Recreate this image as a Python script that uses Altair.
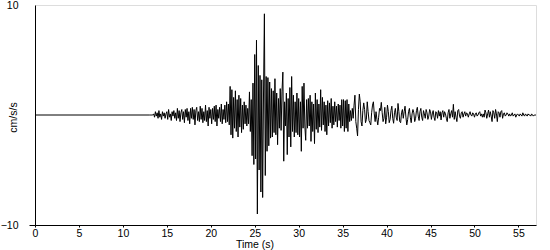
import altair as alt
import pandas as pd

# Acceleration record (cm/s/s), sampled every 0.1 s starting at 13.0 s.
# Before 13.0 s the trace is flat at zero.
pre_event_times = [0.0]
pre_event_vals = [0.0]

start_time = 13.0
sample_step = 0.1

pre_event_noise = [
    0, 0, 0, 0, 0, 0.1, -0.2, 0.3, -0.1, 0.2,
    -0.3, 0.4, -0.2, 0.1, -0.4, 0.3, -0.1, 0.2, -0.3, 0.1,
    0.3, -0.4, 0.5, -0.2, 0.1, -0.5, 0.3, -0.1, 0.4, -0.3,
    0.2, -0.5, 0.6, -0.3, 0.4, -0.6, 0.2, 0.5, -0.4, 0.3,
    -0.7, 0.5, -0.2, 0.6, -0.5, 0.3, -0.8, 0.6, -0.3, 0.7,
    -0.4, 0.5, -0.9, 0.4, 0.7, -0.5, 0.3, -0.6, 0.8, -0.4,
    0.6, -0.7, 0.3, -0.5, 0.9, -0.6, 0.4, -1.0, 0.7, -0.3,
    0.5, -0.8, 0.6, -0.4, 0.8, -0.6, 0.9, -1.0, 0.5, -0.3,
    0.7, -0.6, 1.0, -0.8, 0.5, -0.4, 0.9, -0.7, 1.2, -0.6,
]

strong_motion = [
    1.0, -0.9, 2.6, -1.8, 2.3, -2.1, 1.6, -1.2, 2.2, -1.5,
    1.4, -2.0, 1.8, -1.1, 1.5, -1.6, 0.9, -1.3, 1.2, -0.8,
    0.9, -1.0, 0.6, -0.8, 2.1, -1.5, 1.4, -3.7, 2.9, -4.5,
    5.5, -4.0, 6.8, -9.0, 4.5, -5.0, 3.6, -7.0, 3.2, -7.5,
    2.0, 9.2, -5.5, 3.5, -3.3, 3.4, -2.8, 3.0, -2.1, 2.4,
    -2.0, 2.2, -1.6, 3.3, -1.8, 2.0, -2.7, 1.5, -1.2, 2.4,
    -1.4, 2.1, 3.9, -4.2, 1.2, -1.0, 2.0, -3.6, 1.5, -2.0,
    2.5, -2.9, 3.5, -1.5, 1.8, -2.0, 1.2, -1.6, 2.0, -1.8,
]

coda_early = [
    1.5, -2.0, 1.2, -3.3, 2.6, -1.2, 2.9, -1.0, -2.3, 1.4,
    -1.2, 1.5, -1.0, 1.8, -2.4, 1.2, -1.5, 1.0, -2.6, 2.0,
    -1.3, 1.4, -1.6, 1.0, -1.1, 2.3, -1.4, 1.6, -0.9, 1.2,
    -1.5, 0.9, -1.8, 1.3, -1.0, 1.1, -0.7, 1.5, -1.2, 0.8,
    -0.9, 1.2, -0.6, 0.8, -1.1, 1.0, -0.5, 0.9, -1.2, 1.4,
    -1.0, 1.4, -1.5, 1.3, -1.2, 1.4, -1.5, 1.0, -0.6, 0.4,
    -0.5, 0.6, -0.3, 0.9, 1.8, -0.6, -1.2, -1.9, 0.5, 1.9,
    1.2, -0.6, -1.0, 0.4, 1.1, 0.5, -0.7, -0.4, 1.2, 0.3,
    -0.5, -0.7, -0.9, 0.2, 0.9, 1.2, 0.1, -0.6, 0.3, -0.4,
    -0.9, -0.2, 0.6, 0.4, 1.15, 0.2, -0.6, -0.3, 0.7, -0.8,
]

coda_late = [
    -0.2, 0.9, 0.3, -0.7, -0.4, 0.4, 0.8, -0.3, -0.75, 0.2,
    0.6, -0.2, -0.5, 1.05, 0.3, -0.6, -0.7, 0.2, 0.5, -0.3,
    0.3, 0.8, -0.2, -0.9, -0.4, 0.3, 0.6, -0.2, -0.7, 0.1,
    0.5, 0.2, -0.6, -0.3, 0.4, 0.7, -0.1, -0.5, 0.3, 0.6,
    -0.2, -0.5, 0.4, 0.1, -0.3, 0.5, 0.2, -0.4, -0.1, 0.5,
    0.3, -0.4, 0.1, 0.4, -0.2, -0.5, 0.3, 0.2, -0.3, 0.4,
    -0.1, 0.3, -0.45, 0.2, 0.4, -0.2, 0.3, 0.1, -0.3, -0.6,
    0.2, 0.5, -0.3, 0.1, 0.4, -0.2, 0.97, -0.4, 0.3, -0.2,
    -0.6, 0.4, 0.5, -0.1, -0.3, 0.2, 0.3, -0.2, 0.1, 0.3,
    -0.1, 0.2, 0.1, -0.2, 0.1, 0.3, 0.0, -0.1, 0.2, 0.1,
    -0.2, 0.1, 0.2, -0.1, 0.0, 0.2, 0.3, -0.1, 0.1, -0.2,
    0.1, -0.2, 0.45, 0.2, -0.3, 0.1, 0.45, -0.2, 0.3, -0.1,
    -0.6, 0.4, 0.2, -0.3, 0.5, 0.1, -0.6, 0.3, 0.2, -0.2,
    0.3, 0.4, -0.3, 0.1, 0.2, -0.1, 0.0, 0.2, 0.1, -0.1,
    0.1, -0.1, 0.0, 0.2, -0.1, 0.0, 0.1, -0.2, 0.0, 0.1,
    0.0, -0.1, 0.1, 0.0, -0.1, 0.2, 0.0, -0.1, 0.1, 0.0,
    -0.1, 0.1, 0.0, 0.0, -0.1, 0.1, 0.0, -0.1, 0.0, 0.0,
    0.0,
]

x_ticks = [0, 5, 10, 15, 20, 25, 30, 35, 40, 45, 50, 55]
y_ticks = [-10, 10]

samples = pre_event_noise + strong_motion + coda_early + coda_late
times = pre_event_times + [round(start_time + sample_step * i, 2) for i in range(len(samples))]
vals = pre_event_vals + samples

df = pd.DataFrame({"time": times, "accel": vals})

FONT = "Liberation Sans"

chart = (
    alt.Chart(df)
    .mark_line(color="black", strokeWidth=1, interpolate="linear")
    .encode(
        x=alt.X(
            "time:Q",
            scale=alt.Scale(domain=[0, 57], nice=False, zero=False),
            axis=alt.Axis(
                values=x_ticks,
                title="Time (s)",
                grid=False,
                tickSize=2,
                labelPadding=1,
                labelFlush=False,
                labelFont=FONT,
                labelFontSize=10.5,
                labelColor="black",
                tickColor="black",
                domainColor="black",
                titleFont=FONT,
                titleFontSize=10.5,
                titleFontWeight="normal",
                titleColor="black",
                titleX=219.5,
                titleY=22.5,
                titleAlign="center",
                titleBaseline="alphabetic",
            ),
        ),
        y=alt.Y(
            "accel:Q",
            scale=alt.Scale(domain=[-10, 10], nice=False, zero=False),
            axis=alt.Axis(
                values=y_ticks,
                title="cm/s/s",
                grid=False,
                tickSize=6,
                labelPadding=11,
                labelFont=FONT,
                labelFontSize=10.5,
                labelColor="black",
                tickColor="black",
                domainColor="black",
                tickOpacity={"condition": {"test": "datum.value < 0", "value": 1}, "value": 0},
                titleFont=FONT,
                titleFontSize=10.5,
                titleFontWeight="normal",
                titleColor="black",
                titleAngle=270,
                titleX=-22,
                titleY=112,
                titleAlign="center",
                titleBaseline="middle",
            ),
        ),
    )
    .properties(
        width=501,
        height=220,
        autosize=alt.AutoSizeParams(type="none"),
        padding={"left": 35, "top": 5, "right": 14, "bottom": 25},
    )
    .configure_view(stroke=None)
    .configure(background="white")
)

chart.save("out.html", embed_options={"renderer": "svg", "actions": False})
